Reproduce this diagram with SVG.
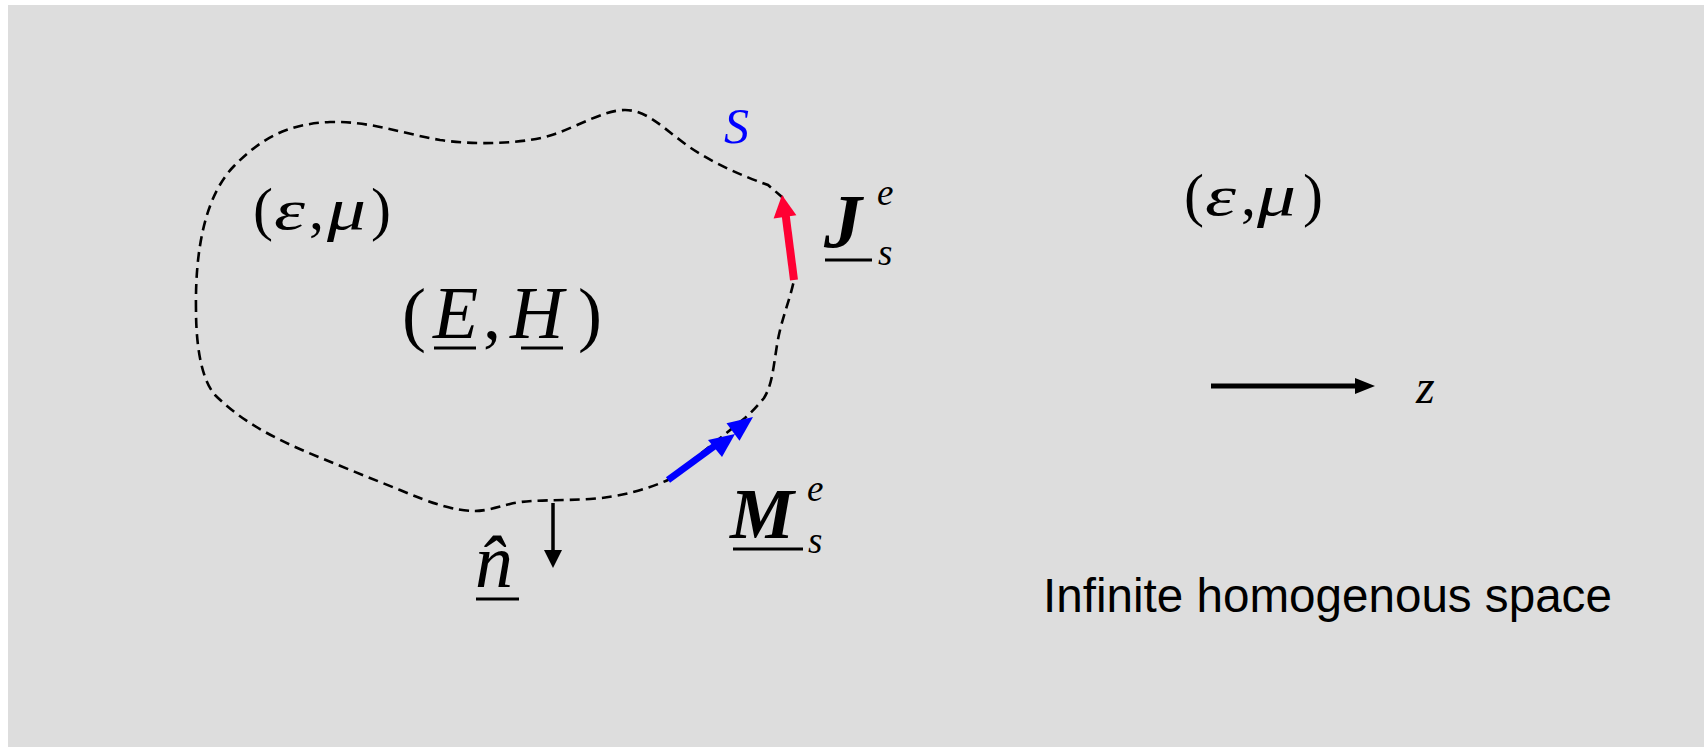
<svg xmlns="http://www.w3.org/2000/svg" width="1704" height="747" viewBox="0 0 1704 747">
<style>
.m{font-family:"Liberation Serif","Times New Roman",serif;fill:#000}
.i{font-style:italic}
.b{font-weight:bold}
.ul{stroke:#000;stroke-width:3}
.sans{font-family:"Liberation Sans",Arial,sans-serif;fill:#000}
</style>
<rect x="0" y="0" width="1704" height="747" fill="#ffffff"/>
<rect x="8" y="5" width="1696" height="742" fill="#dddddd"/>
<g id="region">
<path d="M196,310 C195,250 205,195 235,165 C260,140 285,124 330,122 C370,121 400,133 440,140 C480,146 530,143 555,134 C580,125 605,110 625,110 C645,110 660,125 680,140 C705,160 740,175 768,185 L782,197 L794,280 C790,300 781,320 777,345 C773,370 772,385 764,398 C758,405 752,412 745,418 L668,480 C645,490 620,497 590,499 C560,501 530,499 510,504 C495,508 485,511 475,511 C455,511 430,503 400,490 C370,478 330,462 302,450 C270,436 240,420 215,395 C200,378 196,340 196,310 Z" fill="none" stroke="#000" stroke-width="2.6" stroke-dasharray="10,6"/>
</g>
<g id="label-S"><text class="m i" x="724" y="143" font-size="50" style="fill:#0000ff">S</text></g>
<g id="label-epsmu-inner" class="m">
<text x="253" y="229" font-size="60">(</text>
<text class="i" x="274" y="229" font-size="58" textLength="31" lengthAdjust="spacingAndGlyphs">ε</text>
<text x="309" y="229" font-size="60">,</text>
<text class="i" x="327" y="229" font-size="60" textLength="39" lengthAdjust="spacingAndGlyphs">μ</text>
<text x="371" y="229" font-size="60">)</text>
</g>
<g id="label-EH" class="m">
<text x="402" y="338" font-size="72">(</text>
<text class="i" x="433" y="338" font-size="74">E</text>
<line class="ul" x1="434" y1="348" x2="476" y2="348"/>
<text x="483" y="338" font-size="72">,</text>
<text class="i" x="510" y="338" font-size="74">H</text>
<line class="ul" x1="521" y1="348" x2="563" y2="348"/>
<text x="578" y="338" font-size="72">)</text>
</g>
<g id="label-Js" class="m">
<text class="i b" x="824" y="247" font-size="76">J</text>
<line class="ul" x1="825" y1="260" x2="872" y2="260"/>
<text class="i" x="877" y="205" font-size="37">e</text>
<text class="i" x="878" y="265" font-size="37">s</text>
</g>
<g id="label-Ms" class="m">
<text class="i b" x="730" y="538" font-size="72">M</text>
<line class="ul" x1="733" y1="549" x2="803" y2="549"/>
<text class="i" x="807" y="501" font-size="37">e</text>
<text class="i" x="808" y="553" font-size="37">s</text>
</g>
<g id="label-n" class="m">
<text class="i" x="475" y="587" font-size="76">n̂</text>
<line class="ul" x1="476" y1="599" x2="519" y2="599"/>
</g>
<g id="label-epsmu-outer" class="m">
<text x="1184" y="215" font-size="60">(</text>
<text class="i" x="1205" y="215" font-size="58" textLength="31" lengthAdjust="spacingAndGlyphs">ε</text>
<text x="1241" y="215" font-size="60">,</text>
<text class="i" x="1257" y="215" font-size="60" textLength="39" lengthAdjust="spacingAndGlyphs">μ</text>
<text x="1303" y="215" font-size="60">)</text>
</g>
<g id="label-z"><text class="m i" x="1416" y="403" font-size="48">z</text></g>
<g id="label-space"><text class="sans" x="1043" y="612" font-size="47.6">Infinite homogenous space</text></g>
<g id="connectors">
<line x1="794" y1="280" x2="785.5" y2="214" stroke="#ff0033" stroke-width="8"/>
<polygon points="782,195 796.4,215.2 773.6,218.4" fill="#ff0033"/>
<line x1="668" y1="480" x2="720" y2="442" stroke="#0000ff" stroke-width="7"/>
<polygon points="735,434 708,440 722,457" fill="#0000ff"/>
<polygon points="753,417 726.5,423.2 739.5,440.8" fill="#0000ff"/>
<line x1="553" y1="503" x2="553" y2="552" stroke="#000" stroke-width="3.5"/>
<polygon points="553,568 544,550 562,550" fill="#000"/>
<line x1="1211" y1="386" x2="1358" y2="386" stroke="#000" stroke-width="5"/>
<polygon points="1375,386 1355,378 1355,394" fill="#000"/>
</g>
</svg>
